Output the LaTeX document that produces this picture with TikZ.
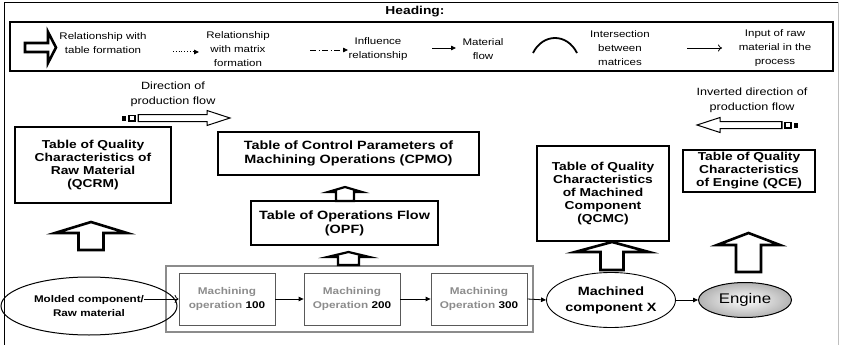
\documentclass[tikz,border=0pt]{standalone}
\usepackage{fontspec}
\setmainfont{Liberation Sans}[FakeStretch=1.2]
\usetikzlibrary{arrows.meta,shapes.geometric}
\newcommand\blockup[7]{\draw[#7] (#1-#5,#3) -- (#1-#5,#2+#6) -- (#1-#4,#2+#6) -- (#1,#2) -- (#1+#4,#2+#6) -- (#1+#5,#2+#6) -- (#1+#5,#3) -- cycle;}
\begin{document}
\begin{tikzpicture}[x=1pt,y=-1pt,
  tbox/.style={draw, line width=1.2pt, align=center, inner sep=1pt, font=\bfseries\fontsize{11.5}{13}\selectfont},
  opbox/.style={draw=black!65, line width=0.8pt, align=center, minimum width=96pt, minimum height=52pt, inner sep=0pt, text=black!45, font=\bfseries\fontsize{9.8}{14}\selectfont},
  lgtext/.style={align=center, font=\fontsize{9.6}{14}\selectfont},
  flow/.style={-{Triangle[length=5pt,width=4.5pt]}, line width=0.8pt},
  thickarr/.style={draw, fill=white, line width=2.6pt, line join=miter, miter limit=10},
  thinarr/.style={draw, fill=white, line width=1pt, line join=miter}
]
\useasboundingbox (0,0) rectangle (841,345);
% outer frame
\draw[line width=0.8pt] (4,345) -- (4,2) -- (838,2);
\draw[black!25, line width=0.6pt] (838,2) -- (838,345);

% legend
\node[font=\bfseries\fontsize{11.5}{12}\selectfont] (heading) at (415,12) {Heading:};
\draw[line width=1.2pt] (10,22) rectangle (833,71);
\draw[thickarr] (25,43) -- (48,43) -- (48,32) -- (56,47.5) -- (48,63) -- (48,52) -- (25,52) -- cycle;
\node[lgtext] (l1) at (103,43.5) {Relationship with\\table formation};
\coordinate (d1) at (173,52); \coordinate (d2) at (199,52);
\draw[flow, dotted, line width=1pt] (d1) -- (d2);
\node[lgtext] (l2) at (238,49) {Relationship\\with matrix\\formation};
\coordinate (e1) at (310,50); \coordinate (e2) at (348,50);
\draw[flow, dash pattern=on 6pt off 2.5pt on 1pt off 2.5pt] (e1) -- (e2);
\node[lgtext] (l3) at (378,49.5) {Influence\\relationship};
\coordinate (f1) at (432,48); \coordinate (f2) at (456,48);
\draw[flow] (f1) -- (f2);
\node[lgtext] (l4) at (483,49.5) {Material\\flow};
\coordinate (g1) at (533,53); \coordinate (g2) at (577,53);
\draw[line width=1.8pt] (g1) .. controls (543,33) and (567,33) .. (g2);
\node[lgtext] (l5) at (620,48) {Intersection\\between\\matrices};
\coordinate (h1) at (687,48); \coordinate (h2) at (722,48);
\draw[-{To[length=4pt,width=7pt]}, line width=0.8pt] (h1) -- (h2);
\node[lgtext] (l6) at (775,48) {Input of raw\\material in the\\process};

% direction of production flow
\node[align=center, font=\fontsize{10.5}{15}\selectfont] (dir) at (173,94.5) {Direction of\\production flow};
\fill (122,115.5) rectangle (126,121);
\draw[line width=1.2pt] (129,115.5) rectangle (135,121);
\draw[thinarr] (138,114.5) -- (207,114.5) -- (207,110.5) -- (230,118) -- (207,125.5) -- (207,121.5) -- (138,121.5) -- cycle;
\draw[line width=1.4pt] (138.5,114.5) -- (138.5,121.5);

\node[align=center, font=\fontsize{10.5}{15}\selectfont] (idir) at (752,100.5) {Inverted direction of\\production flow};
\draw[thinarr] (782,121.5) -- (720,121.5) -- (720,117.5) -- (697,125) -- (720,132.5) -- (720,128.5) -- (782,128.5) -- cycle;
\draw[line width=1.4pt] (781.5,121.5) -- (781.5,128.5);
\draw[line width=1.2pt] (785,122.5) rectangle (791,128);
\fill (794,122.5) rectangle (798,128);

% tables
\node[tbox, minimum width=156pt, minimum height=76pt, line width=1.4pt] (qcrm) at (93,165) {Table of Quality\\Characteristics of\\Raw Material\\(QCRM)};
\node[tbox, minimum width=261pt, minimum height=43pt, font=\bfseries\fontsize{12}{14}\selectfont] (cpmo) at (348.5,153.5) {Table of Control Parameters of\\Machining Operations (CPMO)};
\node[tbox, minimum width=187pt, minimum height=44pt, font=\bfseries\fontsize{12}{14}\selectfont] (opf) at (344.5,223) {Table of Operations Flow\\(OPF)};
\node[tbox, minimum width=132pt, minimum height=95pt] (qcmc) at (603,193.5) {Table of Quality\\Characteristics\\of Machined\\Component\\(QCMC)};
\node[tbox, minimum width=132pt, minimum height=42pt] (qce) at (749,171) {Table of Quality\\Characteristics\\of Engine (QCE)};

% process
\node[draw=black!45, line width=1.2pt, minimum width=367pt, minimum height=66pt] (proc) at (349.5,299) {};
\node[opbox] (op1) at (227,299) {Machining\\operation \textcolor{black}{100}};
\node[opbox] (op2) at (352,299) {Machining\\Operation \textcolor{black}{200}};
\node[opbox] (op3) at (479,299) {Machining\\Operation \textcolor{black}{300}};
\node[ellipse, draw, line width=1pt, minimum width=176pt, minimum height=58pt, inner sep=0pt, align=center, font=\bfseries\fontsize{9.7}{14}\selectfont] (raw) at (89,306) {Molded component/\\Raw material};
\node[ellipse, draw, line width=0.9pt, minimum width=112pt, minimum height=55pt, inner sep=0pt, align=center, font=\bfseries\fontsize{12}{16}\selectfont] (mx) at (611,300) {Machined\\component X};
\node[ellipse, draw, line width=1pt, minimum width=93pt, minimum height=35pt, inner sep=0pt, inner color=white, outer color=black!30, font=\fontsize{14}{15}\selectfont] (eng) at (745,300) {Engine};

\coordinate (rawout) at (144,299);
\draw[-{To[length=4pt,width=8pt]}, line width=0.8pt] (rawout) -- (op1.west);
\draw[flow] (op1) -- (op2);
\draw[flow] (op2) -- (op3);
\draw[flow] (op3.east) -- (mx.west);
\draw[flow] (mx) -- (eng);

% block arrows (relationship with table formation)
\blockup{91}{222}{250}{36}{12.5}{11}{thickarr}
\blockup{345}{187}{201}{17}{9}{5}{thickarr, line width=2.2pt}
\blockup{348.5}{252}{265}{21}{10.5}{5}{thickarr, line width=2.2pt}
\blockup{612}{242}{270}{37}{11.5}{10}{thickarr}
\blockup{748.5}{233}{272}{31.5}{12.5}{12}{thickarr}
\end{tikzpicture}
\end{document}
